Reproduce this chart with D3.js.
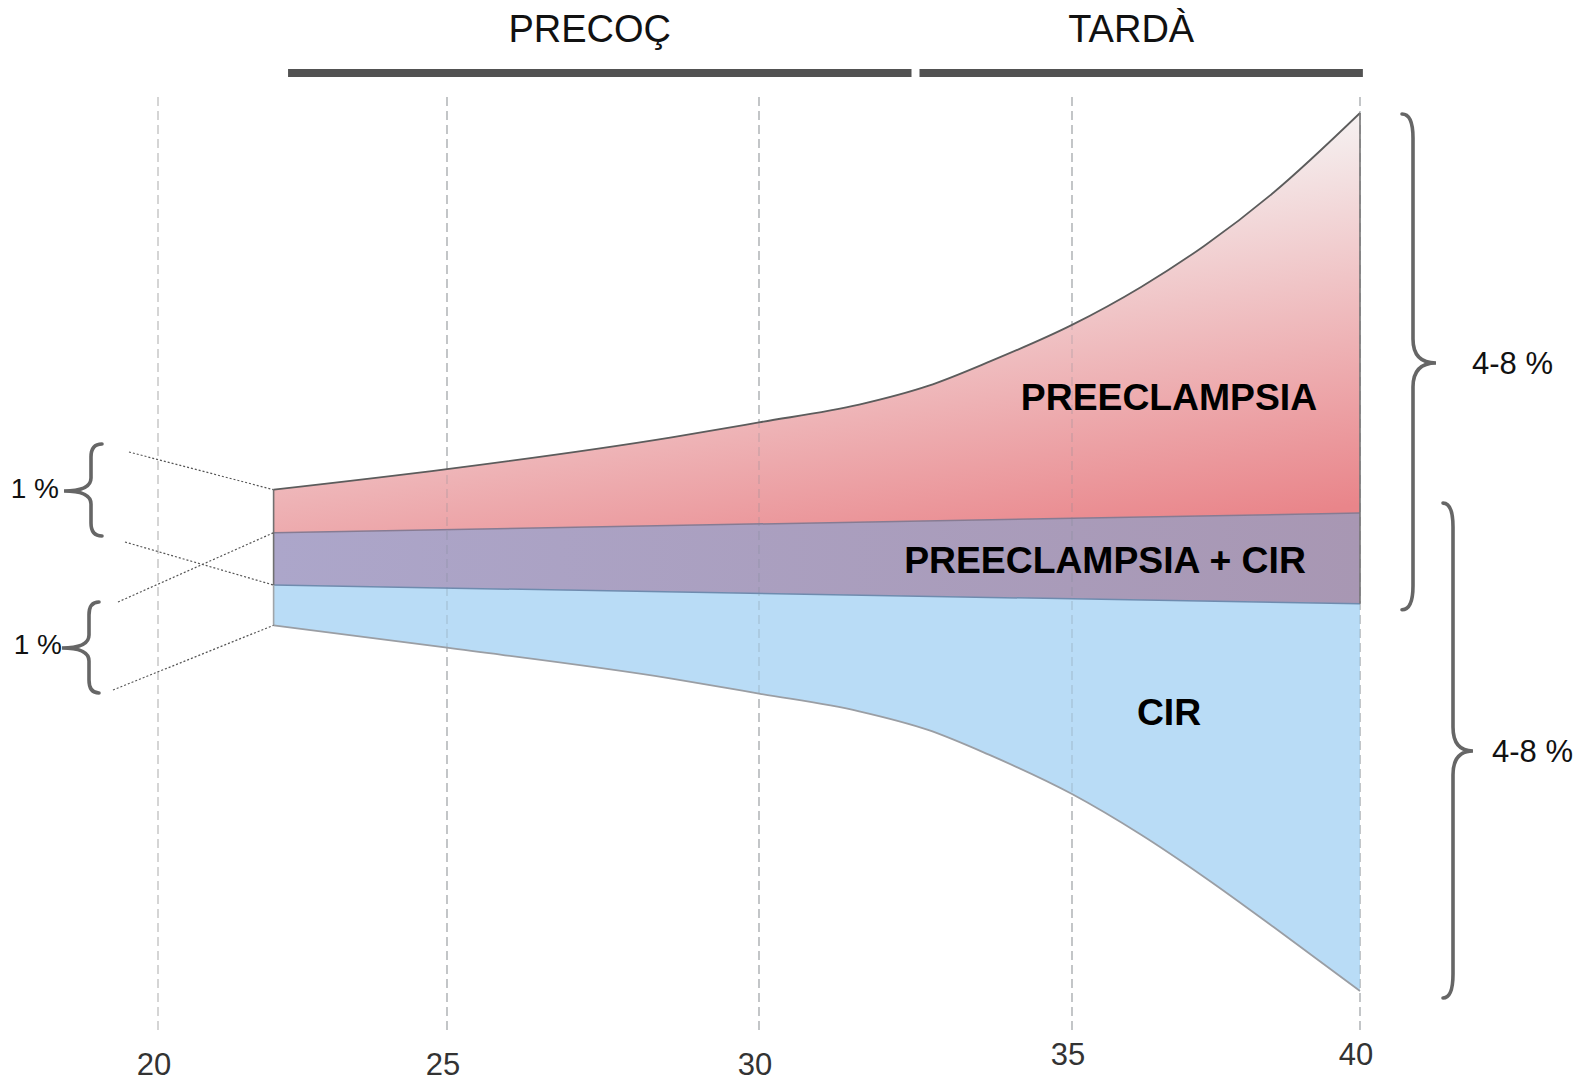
<!DOCTYPE html>
<html>
<head>
<meta charset="utf-8">
<script src="https://cdn.jsdelivr.net/npm/d3@7"></script>
<style>
  html, body { margin: 0; padding: 0; background: #ffffff; }
  svg { display: block; font-family: "Liberation Sans", Arial, Helvetica, sans-serif; }
</style>
</head>
<body>
<svg id="chart" width="1595" height="1082"></svg>
<script>
// ---------------- DATA ----------------
// gestational weeks (x) and band boundaries (arbitrary % units, y)
const tickValues = [20, 25, 30, 35, 40];
const tickLabels = ["20", "25", "30", "35", "40"];

const outerWeeks  = [22, 25, 28.6, 30, 31.6, 32.7, 33.7, 35, 36.2, 37.3, 38.5, 40];
const peTop       = [5.80, 6.02, 6.36, 6.52, 6.71, 6.91, 7.175, 7.563, 7.969, 8.41, 8.979, 9.829];
const cirBottom   = [4.35, 4.11, 3.78, 3.62, 3.43, 3.231, 2.958, 2.545, 2.109, 1.655, 1.122, 0.439];

const innerWeeks  = [22, 40];
const peCirTop    = [5.34, 5.55];   // preeclampsia / overlap boundary
const peCirBottom = [4.78, 4.58];   // overlap / CIR boundary

const phaseNames  = ["PRECOÇ", "TARDÀ"];
const phaseFrom   = [22.25, 32.5];
const phaseTo     = [32.5, 40.05];

const bandNames   = ["PREECLAMPSIA", "PREECLAMPSIA + CIR", "CIR"];
const leftBraceLabels  = ["1 %", "1 %"];
const rightBraceLabels = ["4-8 %", "4-8 %"];

// ---------------- SCALES ----------------
const svg = d3.select("#chart");
const x = d3.scaleLinear().domain([20, 25, 30, 35, 40]).range([158, 447, 759, 1072, 1360]);
const y = d3.scaleLinear().domain([0, 10]).range([1032, 97]);

const FONT = '"Liberation Sans", Arial, Helvetica, sans-serif';

const zip = (ws, vs) => ws.map((w, i) => [w, vs[i]]);
const topPts = zip(outerWeeks, peTop);
const botPts = zip(outerWeeks, cirBottom);
const rpPts  = zip(innerWeeks, peCirTop);
const pbPts  = zip(innerWeeks, peCirBottom);

const curveLine = d3.line().x(d => x(d[0])).y(d => y(d[1])).curve(d3.curveMonotoneX);
const straight  = d3.line().x(d => x(d[0])).y(d => y(d[1]));

function band(upper, lower, upperCurved, lowerCurved) {
  const up = (upperCurved ? curveLine : straight)(upper);
  const lowRev = lower.slice().reverse();
  const low = (lowerCurved ? curveLine : straight)(lowRev).replace(/^M/, "L");
  return up + low + "Z";
}

// ---------------- DEFS ----------------
const defs = svg.append("defs");
const redGrad = defs.append("linearGradient").attr("id", "redGrad")
  .attr("gradientUnits", "userSpaceOnUse")
  .attr("x1", x(40)).attr("y1", y(peTop[peTop.length - 1]))
  .attr("x2", x(40) + 58).attr("y2", y(peTop[peTop.length - 1]) + 383);
redGrad.append("stop").attr("offset", 0).attr("stop-color", "#f5f1f1");
redGrad.append("stop").attr("offset", 1).attr("stop-color", "#e9858a");

const purGrad = defs.append("linearGradient").attr("id", "purGrad")
  .attr("gradientUnits", "userSpaceOnUse")
  .attr("x1", x(22)).attr("y1", 0).attr("x2", x(40)).attr("y2", 0);
purGrad.append("stop").attr("offset", 0).attr("stop-color", "#aca6ca");
purGrad.append("stop").attr("offset", 1).attr("stop-color", "#a897b3");

// ---------------- GRID (under) ----------------
const gridTop = 97, gridBottom = 1032;
svg.append("g").selectAll("line").data(tickValues).join("line")
  .attr("x1", d => x(d)).attr("x2", d => x(d))
  .attr("y1", gridTop).attr("y2", gridBottom)
  .attr("stroke", "#c4c4c4").attr("stroke-width", 1.4)
  .attr("stroke-dasharray", "9,5");

// ---------------- BANDS ----------------
const gBands = svg.append("g");
gBands.append("path").attr("d", band(topPts, rpPts, true, false)).attr("fill", "url(#redGrad)");
gBands.append("path").attr("d", band(rpPts, pbPts, false, false)).attr("fill", "url(#purGrad)");
gBands.append("path").attr("d", band(pbPts, botPts, false, true)).attr("fill", "#b9dcf6");

// grid visible through bands
svg.append("g").selectAll("line").data(tickValues.filter(t => t > 22)).join("line")
  .attr("x1", d => x(d)).attr("x2", d => x(d))
  .attr("y1", gridTop).attr("y2", gridBottom)
  .attr("stroke", "#7a8794").attr("stroke-opacity", 0.28).attr("stroke-width", 1.4)
  .attr("stroke-dasharray", "9,5");

// ---------------- EDGES ----------------
const gEdges = svg.append("g").attr("fill", "none");
gEdges.append("path").attr("d", curveLine(topPts)).attr("stroke", "#5c5c5c").attr("stroke-width", 1.8);
gEdges.append("path").attr("d", curveLine(botPts)).attr("stroke", "#9a9ea4").attr("stroke-width", 1.8);
gEdges.append("path").attr("d", straight(rpPts)).attr("stroke", "#877b92").attr("stroke-width", 1.5);
gEdges.append("path").attr("d", straight(pbPts)).attr("stroke", "#6f8bae").attr("stroke-width", 1.5);
// left edges at 22 weeks
gEdges.append("line").attr("x1", x(22)).attr("x2", x(22))
  .attr("y1", y(peTop[0])).attr("y2", y(peCirBottom[0]))
  .attr("stroke", "#707070").attr("stroke-width", 1.6);
gEdges.append("line").attr("x1", x(22)).attr("x2", x(22))
  .attr("y1", y(peCirBottom[0])).attr("y2", y(cirBottom[0]))
  .attr("stroke", "#a0a4a8").attr("stroke-width", 1.6);
// right edge at 40 weeks (preeclampsia + overlap)
gEdges.append("line").attr("x1", x(40)).attr("x2", x(40))
  .attr("y1", y(peTop[peTop.length - 1])).attr("y2", y(peCirBottom[1]))
  .attr("stroke", "#757575").attr("stroke-width", 1.6);

// ---------------- PHASE BARS ----------------
const gPhase = svg.append("g");
phaseNames.forEach((name, i) => {
  const xa = x(phaseFrom[i]) + (i === 0 ? 0 : 4);
  const xb = x(phaseTo[i]) - (i === 0 ? 4 : 0);
  gPhase.append("rect").attr("x", xa).attr("y", 69).attr("width", xb - xa).attr("height", 8)
    .attr("fill", "#525252");
  gPhase.append("text").attr("x", (xa + xb) / 2 - 10).attr("y", 42)
    .attr("text-anchor", "middle").attr("font-family", FONT).attr("font-size", 38)
    .attr("fill", "#111").text(name);
});

// ---------------- AXIS LABELS ----------------
svg.append("g").selectAll("text").data(tickValues).join("text")
  .attr("x", d => x(d) - 4)
  .attr("y", d => d >= 35 ? 1065 : 1075)
  .attr("text-anchor", "middle").attr("font-family", FONT).attr("font-size", 31)
  .attr("fill", "#333").text((d, i) => tickLabels[i]);

// ---------------- BAND LABELS ----------------
const gLab = svg.append("g").attr("font-family", FONT).attr("font-weight", "bold")
  .attr("font-size", 37.3).attr("fill", "#000").attr("text-anchor", "middle");
gLab.append("text").attr("x", 1169).attr("y", 410).text(bandNames[0]);
gLab.append("text").attr("x", 1105).attr("y", 573).text(bandNames[1]);
gLab.append("text").attr("x", 1169).attr("y", 725).text(bandNames[2]);

// ---------------- BRACES ----------------
function brace(xe, xs, xt, y0, y1, ym, r, rt) {
  return `M${xe},${y0} Q${xs},${y0} ${xs},${y0 + r} L${xs},${ym - rt} ` +
         `Q${xs},${ym} ${xt},${ym} Q${xs},${ym} ${xs},${ym + rt} ` +
         `L${xs},${y1 - r} Q${xs},${y1} ${xe},${y1}`;
}
const gBr = svg.append("g").attr("fill", "none").attr("stroke", "#666").attr("stroke-width", 3.6)
  .attr("stroke-linecap", "round");
const n = peTop.length - 1;
gBr.append("path").attr("d", brace(1402, 1413, 1436, y(peTop[n]) + 1, y(peCirBottom[1]) + 6, 363, 24, 24));
gBr.append("path").attr("d", brace(1443, 1453, 1473, y(peCirTop[1]) - 10, y(cirBottom[n]) + 7, 751, 24, 24));
gBr.append("path").attr("d", brace(102, 91, 64, 444, 536, 491, 13, 13));
gBr.append("path").attr("d", brace(99, 89, 62, 602, 693, 648, 13, 13));

const gBrT = svg.append("g").attr("font-family", FONT).attr("fill", "#111");
gBrT.append("text").attr("x", 1472).attr("y", 374).attr("font-size", 31).text(rightBraceLabels[0]);
gBrT.append("text").attr("x", 1492).attr("y", 762).attr("font-size", 31).text(rightBraceLabels[1]);
gBrT.append("text").attr("x", 59).attr("y", 498).attr("font-size", 28).attr("text-anchor", "end").text(leftBraceLabels[0]);
gBrT.append("text").attr("x", 62).attr("y", 654).attr("font-size", 28).attr("text-anchor", "end").text(leftBraceLabels[1]);

// ---------------- DOTTED CONNECTORS ----------------
const gDot = svg.append("g").attr("stroke", "#555").attr("stroke-width", 1.2)
  .attr("stroke-dasharray", "2,2");
const conn = [
  [129, 452, peTop[0]],
  [125, 542, peCirBottom[0]],
  [118, 602, peCirTop[0]],
  [113, 690, cirBottom[0]]
];
conn.forEach(c => {
  gDot.append("line").attr("x1", c[0]).attr("y1", c[1])
    .attr("x2", x(22)).attr("y2", y(c[2]));
});
</script>
</body>
</html>
